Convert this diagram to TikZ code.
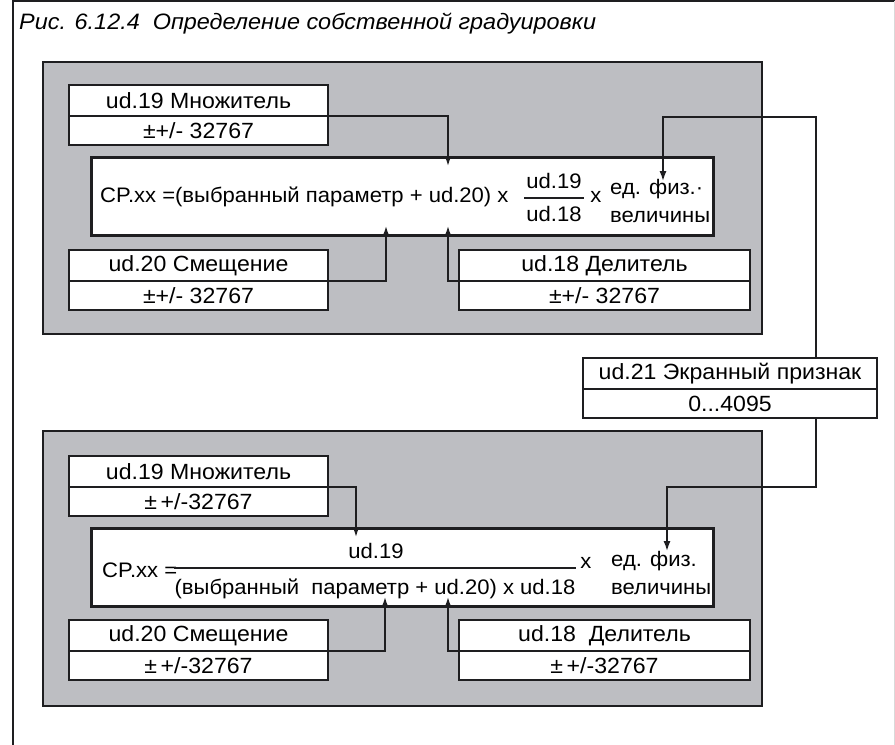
\documentclass[tikz,border=0pt]{standalone}
\usepackage{fontspec}
\setmainfont{Liberation Sans}[FakeStretch=1.05]
\usepackage{tikz}
\usetikzlibrary{arrows.meta,calc,positioning}
\definecolor{panelgray}{RGB}{189,190,194}
\definecolor{linegray}{RGB}{30,30,32}
\tikzset{
  panel/.style={
    draw=linegray,
    line width=2bp,
    fill=panelgray,
    anchor=north west,
    inner sep=0pt,
    outer sep=0pt
  },
  parname/.style={
    draw=linegray,
    line width=1.6bp,
    fill=white,
    anchor=north west,
    inner sep=0pt,
    outer sep=0pt,
    minimum height=31bp,
    font=\fontsize{22bp}{25bp}\selectfont
  },
  parval/.style={
    parname,
    minimum height=29bp
  },
  formel/.style={
    draw=linegray,
    line width=3bp,
    fill=white,
    anchor=north west,
    inner sep=0pt,
    outer sep=0pt,
    minimum width=622bp,
    minimum height=78bp
  },
  ftext/.style={
    inner sep=0pt,
    align=left,
    font=\fontsize{21bp}{28bp}\selectfont
  },
  fracline/.style={
    line width=1.8bp,
    linegray
  },
  arrow/.style={
    -{Latex[length=10bp,width=7bp]},
    line width=1.6bp,
    linegray
  }
}

\begin{document}
\begin{tikzpicture}[x=1bp,y=-1bp]
\useasboundingbox (0,0) rectangle (895,745);
\draw[linegray,line width=2bp] (13,745) -- (13,1) -- (895,1);
\draw[black!15,line width=1bp] (894.5,1) -- (894.5,745);
\node[anchor=base west,inner sep=0pt,font=\itshape\fontsize{22.3bp}{26bp}\selectfont] (titel) at (19,30)
  {Рис. 6.12.4\ \ Определение собственной градуировки};

% upper panel
\node[panel,minimum width=719bp,minimum height=272bp] (oben) at (43,62) {};
\node[parname,minimum width=259bp] (ud19n) at (69,85) {ud.19 Множитель};
\node[parval,minimum width=259bp,below=0pt of ud19n] (ud19v) {±+/- 32767};
\node[formel] (f1) at (91,157) {};
\node[ftext,anchor=west] (f1a) at (100,197) {CP.xx =(выбранный параметр + ud.20) x};
\node[ftext] (f1n) at (554,181) {ud.19};
\node[ftext] (f1d) at (554,214) {ud.18};
\draw[fracline] ([yshift=8bp,xshift=-2bp]f1d.north west) -- ([yshift=8bp,xshift=2bp]f1d.north east);
\node[ftext] (f1x) at (596,197) {x};
\node[ftext,anchor=west] (f1e) at (610,201) {ед. физ.·\\величины};
\node[parname,minimum width=259bp] (ud20n) at (69,250) {ud.20 Смещение};
\node[parval,minimum width=259bp,below=0pt of ud20n] (ud20v) {±+/- 32767};
\node[parname,minimum width=291bp] (ud18n) at (459,250) {ud.18 Делитель};
\node[parval,minimum width=291bp,below=0pt of ud18n] (ud18v) {±+/- 32767};

% screen sign
\node[parname,minimum width=294bp] (ud21n) at (583,358) {ud.21 Экранный признак};
\node[parval,minimum width=294bp,below=0pt of ud21n] (ud21v) {0...4095};

% lower panel
\node[panel,minimum width=719bp,minimum height=275bp] (unten) at (43,431) {};
\node[parname,minimum width=259bp] (ud19n2) at (69,456) {ud.19 Множитель};
\node[parval,minimum width=259bp,below=0pt of ud19n2] (ud19v2) {±\,+/-32767};
\node[formel] (f2) at (91,528) {};
\node[ftext,anchor=west] (f2a) at (102,570) {CP.xx =};
\node[ftext] (f2n) at (376,551) {ud.19};
\node[ftext] (f2d) at (375,589) {(выбранный\ \ параметр + ud.20) x ud.18};
\draw[fracline] ([yshift=11bp]f2d.north west) -- ([yshift=11bp]f2d.north east);
\node[ftext] (f2x) at (586,563) {x};
\node[ftext,anchor=west] (f2e) at (611,573) {ед. физ.\\величины};
\node[parname,minimum width=259bp] (ud20n2) at (69,620) {ud.20 Смещение};
\node[parval,minimum width=259bp,below=0pt of ud20n2] (ud20v2) {±\,+/-32767};
\node[parname,minimum width=291bp] (ud18n2) at (459,620) {ud.18\ \ Делитель};
\node[parval,minimum width=291bp,below=0pt of ud18n2] (ud18v2) {±\,+/-32767};

\coordinate (k1) at (816,117);
\coordinate (k2) at (816,487);
\draw[arrow] (ud19n.south east) -| ([xshift=357bp,yshift=-9bp]f1.north west);
\draw[arrow] (ud20n.south east) -| ([xshift=295bp,yshift=9bp]f1.south west);
\draw[arrow] (ud18n.south west) -| ([xshift=357bp,yshift=9bp]f1.south west);
\draw[arrow] ([xshift=233bp]ud21n.north west) -- (k1) -| ([xshift=53bp,yshift=-2bp]f1e.north west);
\draw[arrow] ([xshift=233bp]ud21v.south west) -- (k2) -| ([xshift=56bp]f2e.north west);
\draw[arrow] (ud19n2.south east) -| ([xshift=265bp,yshift=-9bp]f2.north west);
\draw[arrow] (ud20n2.south east) -| ([xshift=294bp,yshift=9bp]f2.south west);
\draw[arrow] (ud18n2.south west) -| ([xshift=357bp,yshift=9bp]f2.south west);
\end{tikzpicture}
\end{document}
